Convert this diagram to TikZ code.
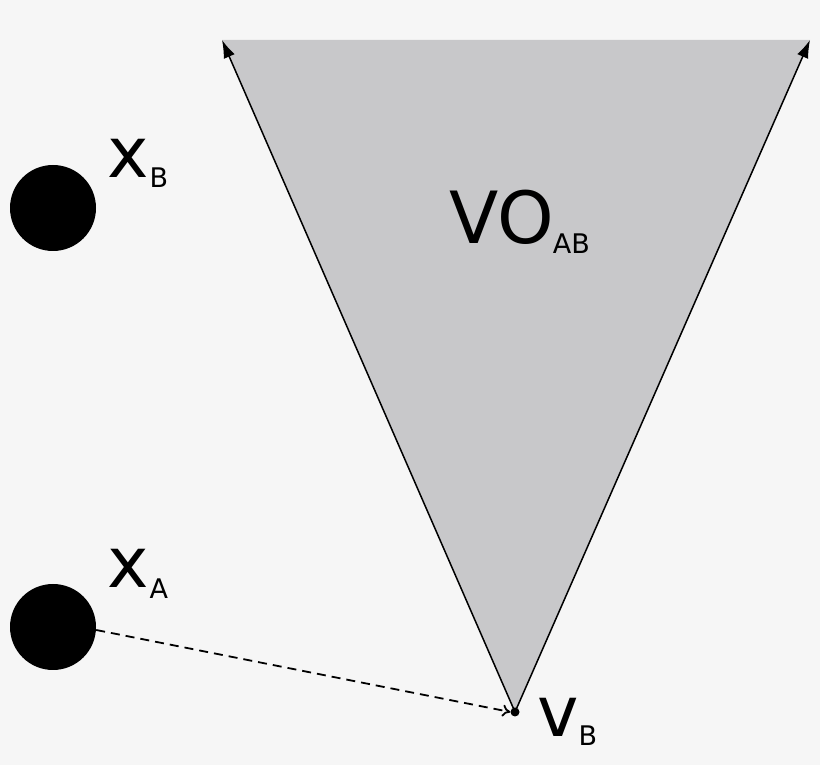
\documentclass[tikz,border=0pt]{standalone}
\usepackage{fontspec}
\setmainfont{DejaVu Sans}
\usetikzlibrary{arrows.meta}
\definecolor{bg}{HTML}{F6F6F6}
\definecolor{vofill}{HTML}{C8C8CA}
\newcommand{\bigtxt}{\fontsize{70}{70}\selectfont}
\newcommand{\subtxt}{\fontsize{27}{27}\selectfont}
\tikzset{
  edge/.style={line width=1.5pt, -{Latex[length=18pt,width=12pt]}},
  dasharrow/.style={line width=1.8pt, dash pattern=on 9pt off 6pt, -{To[length=8pt,width=12pt]}},
  agent/.style={circle, fill=black, minimum size=86pt, inner sep=0pt},
  lbl/.style={anchor=base west, inner sep=0pt}
}
\begin{document}
\begin{tikzpicture}[x=1pt,y=1pt]
\fill[bg] (0,0) rectangle (820,765);
\useasboundingbox (0,0) rectangle (820,765);
\coordinate (apex) at (515,53);
\coordinate (tl) at (222,725);
\coordinate (tr) at (810,725);
\fill[vofill] (apex) -- (tl) -- (tr) -- cycle;
\draw[edge] (apex) -- (tl);
\draw[edge] (apex) -- (tr);
\node[circle, fill=black, minimum size=9pt, inner sep=0pt] (vb) at (apex) {};
\node[agent] (xb) at (53,557) {};
\node[agent] (xa) at (53,138) {};
\coordinate (xastart) at ([yshift=-3pt]xa.east);
\draw[dasharrow] (xastart) -- (vb.west);
\node[lbl] (lxb) at (107,587) {\bigtxt x\kern1pt\raisebox{-10pt}{\subtxt B}};
\node[lbl] (lxa) at (107,177) {\bigtxt x\kern1pt\raisebox{-11pt}{\subtxt A}};
\node[lbl] (lvo) at (449,521) {\fontsize{72}{72}\selectfont VO\kern-1pt\raisebox{-10pt}{\subtxt AB}};
\node[lbl] (lvb) at (537,28) {\bigtxt v\raisebox{-9pt}{\subtxt B}};
\end{tikzpicture}
\end{document}
